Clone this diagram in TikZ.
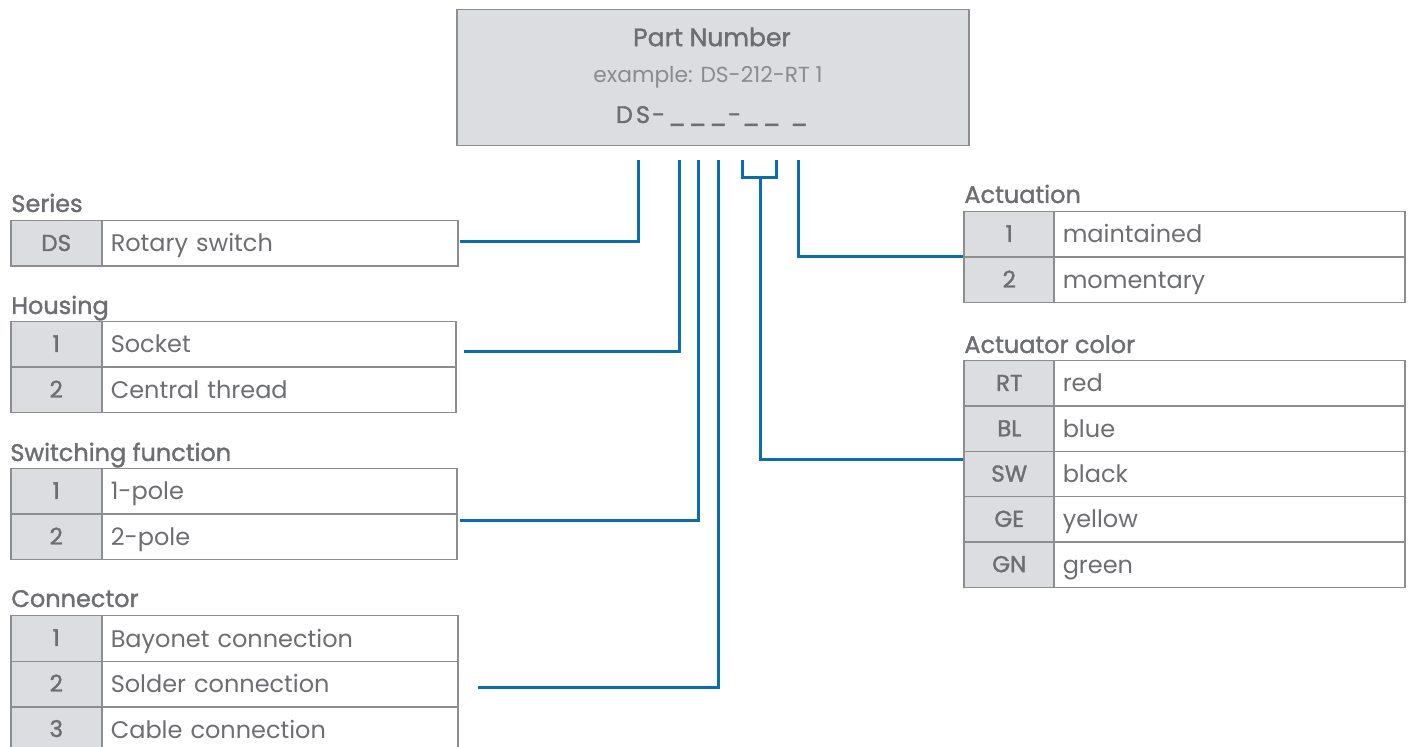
\documentclass[tikz,border=0pt]{standalone}
\usepackage{fontspec}
\setmainfont{Poppins}
\newfontfamily\medfont[FakeBold=1.4]{Poppins}
\usepackage{tikz}
\usetikzlibrary{calc}
\definecolor{txtgray}{HTML}{6D6E71}
\definecolor{lightgray}{HTML}{8A8B8D}
\definecolor{codefill}{HTML}{DCDDE0}
\definecolor{tabline}{HTML}{8C8D8F}
\definecolor{linkblue}{HTML}{0A6FA5}
\tikzset{
  code/.style={draw=tabline, fill=codefill, line width=.75pt, minimum width=45.5pt,
    minimum height=22.75pt, inner sep=0pt, anchor=north west, text=txtgray,
    text height=10pt, text depth=2.5pt, font=\medfont\fontsize{11.5}{13}\selectfont},
  desc/.style={draw=tabline, fill=white, line width=.75pt, text width=#1, inner xsep=4.5pt,
    inner ysep=0pt, minimum height=22.75pt, align=left, anchor=north west, text=txtgray,
    text height=10.5pt, text depth=2pt, font=\fontsize{12}{14}\selectfont},
  desc/.default=169pt,
  heading/.style={anchor=base west, inner sep=0pt, text=txtgray,
    font=\medfont\fontsize{12}{14}\selectfont},
  conn/.style={draw=linkblue, line width=1.5pt},
}
\begin{document}
\begin{tikzpicture}[x=0.5pt,y=-0.5pt]
  \useasboundingbox (0,0) rectangle (1412,747);
  % part number box
  \node (pn) [draw=tabline, fill=codefill, line width=.75pt, minimum width=256pt,
    minimum height=68pt, inner sep=0pt, anchor=north west] at (456,9) {};
  \node (pntitle) [text=txtgray, font=\medfont\fontsize{12.5}{14}\selectfont] at (712,37) {Part Number};
  \node (pnexample) [text=lightgray, font=\fontsize{10.9}{13}\selectfont] at (708,77) {example: DS-212-RT 1};
  \node (pncode) [text=txtgray, font=\medfont\fontsize{12}{14}\selectfont] at (712,116)
    {D\kern1.5pt S\kern1pt-\kern1.5pt\_\kern1.5pt\_\kern1.5pt\_\kern.5pt-\kern.5pt\_\kern1.5pt\_\kern5pt\_};

  % series
  \node (hseries) [heading] at (11,212) {Series};
  \node (ds) [code] at (10,220) {DS};
  \node (dsdesc) [desc] at (101,220) {Rotary switch};

  % housing
  \node (hhousing) [heading] at (11,314) {Housing};
  \node (hou1) [code] at (10,321) {1};
  \node (hou1desc) [desc=168pt] at (101,321) {Socket};
  \node (hou2) [code] at (10,366.5) {2};
  \node (hou2desc) [desc=168pt] at (101,366.5) {Central thread};

  % switching function
  \node (hswitch) [heading] at (10,461) {Switching function};
  \node (sw1) [code] at (10,468) {1};
  \node (sw1desc) [desc=168.5pt] at (101,468) {1-pole};
  \node (sw2) [code] at (10,513.5) {2};
  \node (sw2desc) [desc=168.5pt] at (101,513.5) {2-pole};

  % connector
  \node (hconn) [heading] at (11,607) {Connector};
  \node (con1) [code] at (10,615) {1};
  \node (con1desc) [desc] at (101,615) {Bayonet connection};
  \node (con2) [code] at (10,660.5) {2};
  \node (con2desc) [desc] at (101,660.5) {Solder connection};
  \node (con3) [code] at (10,706) {3};
  \node (con3desc) [desc] at (101,706) {Cable connection};

  % actuation
  \node (hact) [heading] at (964,203) {Actuation};
  \node (act1) [code] at (963,211) {1};
  \node (act1desc) [desc=166.5pt] at (1053,211) {maintained};
  \node (act2) [code] at (963,256.5) {2};
  \node (act2desc) [desc=166.5pt] at (1053,256.5) {momentary};

  % actuator color
  \node (hcol) [heading] at (964,353) {Actuator color};
  \node (rt) [code] at (963,360) {RT};
  \node (rtdesc) [desc=166.5pt] at (1053,360) {red};
  \node (bl) [code] at (963,405.3) {BL};
  \node (bldesc) [desc=166.5pt] at (1053,405.3) {blue};
  \node (swc) [code] at (963,450.6) {SW};
  \node (swcdesc) [desc=166.5pt] at (1053,450.6) {black};
  \node (ge) [code] at (963,495.9) {GE};
  \node (gedesc) [desc=166.5pt] at (1053,495.9) {yellow};
  \node (gn) [code] at (963,541.2) {GN};
  \node (gndesc) [desc=166.5pt] at (1053,541.2) {green};

  % connectors
  \coordinate (t1) at (638,160);
  \coordinate (t2) at (679,160);
  \coordinate (t3) at (698,160);
  \coordinate (t4) at (718,160);
  \coordinate (t5a) at (742,160);
  \coordinate (t5b) at (776,160);
  \coordinate (t5) at (760,178);
  \coordinate (t6) at (798,160);
  \coordinate (e1) at (460,242);
  \coordinate (e2) at (464,352);
  \coordinate (e3) at (460,521);
  \coordinate (e4) at (478,687);
  \draw[conn] (t1) |- (e1);
  \draw[conn] (t2) |- (e2);
  \draw[conn] (t3) |- (e3);
  \draw[conn] (t4) |- (e4);
  \draw[conn] (t5a) |- (t5b |- t5) -- (t5b);
  \draw[conn] (t5) |- (swc.west |- 0,460);
  \draw[conn] (t6) |- (act2.north west);
\end{tikzpicture}
\end{document}
